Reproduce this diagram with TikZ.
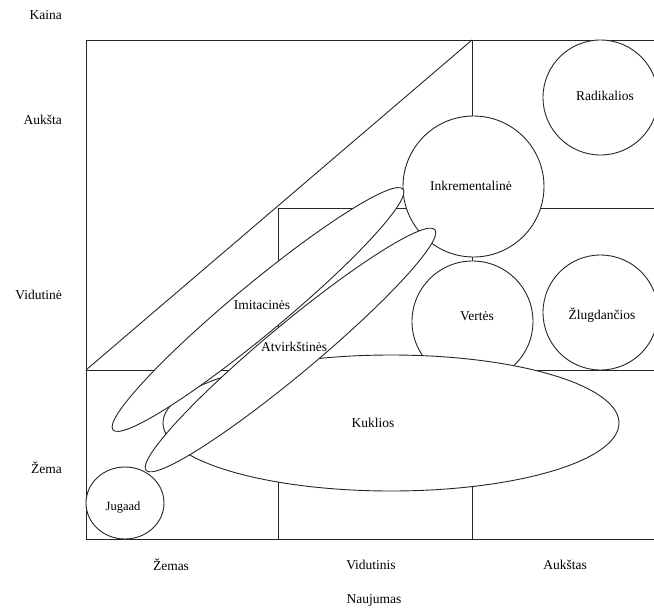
\documentclass[tikz,border=0pt]{standalone}
\usepackage{fontspec}
\setmainfont{Liberation Serif}
\usetikzlibrary{shapes.geometric}
\begin{document}
\begin{tikzpicture}[x=1pt,y=-1pt,
  gridline/.style={draw=black!85,line width=0.9pt},
  bubble/.style={draw=black!85,line width=0.9pt,fill=white,circle,inner sep=0pt},
  oval/.style={draw=black!85,line width=0.9pt,fill=white},
  txt/.style={font=\fontsize{13.5}{16}\selectfont,inner sep=0pt}]
\useasboundingbox (0,0) rectangle (654,608);
% grid
\coordinate (TL) at (86,40);
\coordinate (BL) at (86,539);
\coordinate (TR) at (670,40);
\coordinate (BR) at (670,539);
\draw[gridline] (TR) -- (TL) -- (BL) -- (BR);
\coordinate (ML) at (86,370);
\coordinate (MR) at (670,370);
\draw[gridline] (ML) -- (MR);
\coordinate (TM) at (472,40);
\coordinate (BM) at (472,539);
\draw[gridline] (TM) -- (BM);
\coordinate (UL) at (278,208);
\coordinate (UR) at (670,208);
\coordinate (UB) at (278,539);
\draw[gridline] (UR) -- (UL) -- (UB);
\draw[gridline] (ML) -- (TM);
% circles
\node[bubble,minimum size=115pt] (rad) at (600.5,97.5) {};
\node[bubble,minimum size=141pt] (ink) at (473.5,186.5) {};
\node[bubble,minimum size=121pt] (ver) at (472.5,321.5) {};
\node[bubble,minimum size=115pt] (zlu) at (600.5,312.5) {};
\node[oval,ellipse,inner sep=0pt,minimum width=78pt,minimum height=72pt] (jug) at (125,503) {};
% ovals
\coordinate (kuk) at (391,423);
\draw[oval] (kuk) ellipse [x radius=228, y radius=68];
\coordinate (imi) at (258,309.5);
\draw[oval,rotate around={39.7:(imi)}] (imi) ellipse [x radius=188.5, y radius=25];
\coordinate (atv) at (290.5,350);
\draw[oval,rotate around={39.8:(atv)}] (atv) ellipse [x radius=188, y radius=25];
% labels inside
\node[txt] (tRad) at (605,96) {Radikalios};
\node[txt] (tInk) at (471,186) {Inkrementalinė};
\node[txt] (tVer) at (477,316) {Vertės};
\node[txt] (tZlu) at (602,315) {Žlugdančios};
\node[txt] (tImi) at (262,305) {Imitacinės};
\node[txt] (tAtv) at (294,347) {Atvirkštinės};
\node[txt] (tKuk) at (373,423) {Kuklios};
\node[txt,font=\fontsize{12.5}{15}\selectfont] (tJug) at (123,508) {Jugaad};
% axis labels
\node[txt,anchor=east] (kaina) at (62,15) {Kaina};
\node[txt,anchor=east] (auksta) at (62,120) {Aukšta};
\node[txt,anchor=east] (vid) at (62,295) {Vidutinė};
\node[txt,anchor=east] (zema) at (62,468) {Žema};
\node[txt] (zemas) at (171,565) {Žemas};
\node[txt] (vidutinis) at (371,565) {Vidutinis};
\node[txt] (aukstas) at (565,565) {Aukštas};
\node[txt] (naujumas) at (374,600) {Naujumas};
\end{tikzpicture}
\end{document}
